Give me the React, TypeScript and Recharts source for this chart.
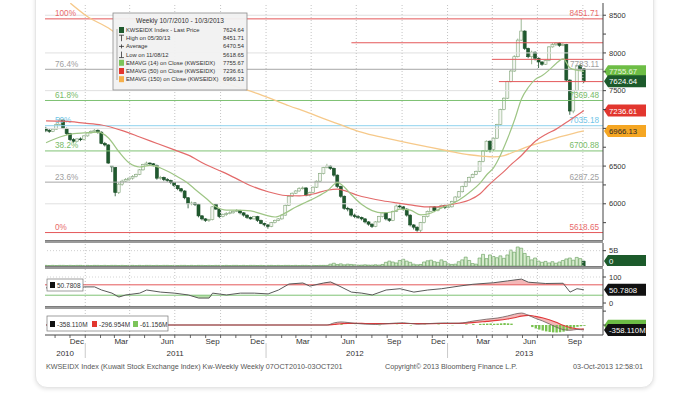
import React from 'react'
import { Area, Bar, Cell, ComposedChart, Line, ReferenceLine, XAxis, YAxis } from 'recharts'

// weekly candles, week 1 = 14-Oct-2010 ... week 156 = 03-Oct-2013
const opens = [
  7000, 6975, 6960, 6990, 7050, 7110, 7000, 6930, 6850, 6830,
  6860, 6850, 6900, 6940, 6960, 6975, 6950, 6800, 6780, 6500,
  6480, 6150, 6260, 6300, 6320, 6340, 6360, 6390, 6450, 6520,
  6540, 6530, 6510, 6340, 6350, 6320, 6310, 6280, 6240, 6200,
  6170, 6080, 6000, 6010, 5990, 5840, 5800, 5780, 5790, 5990,
  5930, 5830, 5860, 5870, 5880, 5900, 5910, 5880, 5850, 5820,
  5800, 5830, 5780, 5740, 5720, 5700, 5750, 5780, 5800, 5850,
  5980, 6100, 6140, 6170, 6200, 6210, 6110, 6150, 6220, 6300,
  6400, 6480, 6500, 6470, 6380, 6230, 6100, 5940, 5930, 5850,
  5830, 5820, 5800, 5760, 5730, 5700, 5760, 5830, 5880, 5800,
  5780, 5900, 5970, 5960, 5930, 5850, 5720, 5690, 5650, 5750,
  5830, 5900, 5960, 5910, 5950, 5980, 5950, 5960, 6030, 6090,
  6160, 6230, 6290, 6350, 6390, 6430, 6560, 6700, 6830, 6720,
  6870, 7050, 7250, 7400, 7620, 7760, 7950, 8170, 8290, 8060,
  7950, 8010, 7930, 7880, 7850, 7900, 8080, 8110, 8130, 8100,
  8110, 7640, 7230, 7500, 7830, 7790,
]
const highs = [
  7020, 6990, 7000, 7070, 7140, 7120, 7010, 6940, 6870, 6870,
  6880, 6910, 6950, 6975, 6990, 6985, 6960, 6820, 6790, 6500,
  6490, 6280, 6320, 6340, 6350, 6380, 6400, 6460, 6530, 6560,
  6550, 6540, 6520, 6370, 6360, 6340, 6320, 6290, 6250, 6210,
  6180, 6090, 6030, 6020, 6000, 5850, 5810, 5800, 5970, 6000,
  5940, 5870, 5890, 5900, 5910, 5930, 5920, 5890, 5860, 5830,
  5840, 5840, 5790, 5750, 5730, 5760, 5790, 5810, 5860, 5990,
  6110, 6150, 6180, 6220, 6230, 6220, 6160, 6230, 6310, 6410,
  6490, 6530, 6510, 6480, 6390, 6240, 6110, 5960, 5940, 5870,
  5850, 5830, 5810, 5770, 5740, 5770, 5840, 5890, 5890, 5810,
  5910, 5990, 5990, 5970, 5940, 5860, 5730, 5700, 5760, 5840,
  5910, 5970, 5970, 5960, 5990, 5990, 5970, 6040, 6100, 6170,
  6240, 6300, 6360, 6400, 6440, 6570, 6710, 6840, 6840, 6880,
  7060, 7260, 7410, 7630, 7780, 7970, 8190, 8451.71, 8300, 8070,
  8030, 8020, 7940, 7890, 7910, 8090, 8130, 8140, 8140, 8130,
  8120, 7650, 7510, 7840, 7850, 7800,
]
const lows = [
  6950, 6940, 6950, 6980, 7040, 6990, 6910, 6830, 6810, 6820,
  6830, 6840, 6890, 6930, 6950, 6930, 6790, 6760, 6530, 6420,
  6100, 6130, 6240, 6290, 6300, 6320, 6350, 6380, 6440, 6510,
  6510, 6490, 6320, 6320, 6300, 6290, 6260, 6220, 6180, 6150,
  6060, 5940, 5980, 5970, 5820, 5780, 5760, 5760, 5780, 5920,
  5810, 5820, 5840, 5860, 5870, 5890, 5860, 5830, 5800, 5790,
  5790, 5760, 5730, 5700, 5670, 5690, 5740, 5770, 5790, 5840,
  5970, 6090, 6130, 6160, 6190, 6100, 6100, 6140, 6210, 6290,
  6390, 6470, 6450, 6360, 6210, 6080, 5920, 5900, 5830, 5810,
  5800, 5780, 5740, 5710, 5680, 5690, 5750, 5820, 5780, 5760,
  5770, 5890, 5940, 5910, 5830, 5700, 5660, 5630, 5618.65, 5740,
  5820, 5890, 5890, 5900, 5940, 5930, 5940, 5950, 6020, 6080,
  6150, 6220, 6280, 6340, 6380, 6420, 6550, 6690, 6680, 6700,
  6860, 7040, 7240, 7390, 7610, 7750, 7940, 8160, 8040, 7930,
  7850, 7900, 7800, 7830, 7840, 7890, 8070, 8090, 8080, 8090,
  7620, 7180, 7200, 7490, 7770, 7600,
]
const closes = [
  6975, 6960, 6990, 7050, 7110, 7000, 6930, 6850, 6830, 6860,
  6850, 6900, 6940, 6960, 6975, 6950, 6800, 6780, 6540, 6490,
  6150, 6260, 6300, 6320, 6340, 6360, 6390, 6450, 6520, 6540,
  6530, 6510, 6340, 6350, 6320, 6310, 6280, 6240, 6200, 6170,
  6080, 6000, 6010, 5990, 5840, 5800, 5780, 5790, 5960, 5930,
  5830, 5860, 5870, 5880, 5900, 5910, 5880, 5850, 5820, 5800,
  5830, 5780, 5740, 5720, 5700, 5750, 5780, 5800, 5850, 5980,
  6100, 6140, 6170, 6200, 6210, 6110, 6150, 6220, 6300, 6400,
  6480, 6500, 6470, 6380, 6230, 6100, 5940, 5930, 5850, 5830,
  5820, 5800, 5760, 5730, 5700, 5760, 5830, 5880, 5800, 5780,
  5900, 5970, 5960, 5930, 5850, 5720, 5690, 5650, 5750, 5830,
  5900, 5960, 5910, 5950, 5980, 5950, 5960, 6030, 6090, 6160,
  6230, 6290, 6350, 6390, 6430, 6560, 6700, 6830, 6720, 6870,
  7050, 7250, 7400, 7620, 7760, 7950, 8170, 8290, 8060, 7950,
  8010, 7930, 7880, 7850, 7900, 8080, 8110, 8130, 8100, 8110,
  7640, 7230, 7500, 7830, 7790, 7624.64,
]
// volume, billions
const volumes = [
  0.2, 0.15, 0.2, 0.15, 0.2, 0.2, 0.15, 0.2, 0.15, 0.2,
  0.2, 0.15, 0.2, 0.15, 0.2, 0.2, 0.15, 0.2, 0.15, 0.2,
  0.2, 0.15, 0.2, 0.15, 0.2, 0.2, 0.15, 0.2, 0.15, 0.2,
  0.2, 0.15, 0.2, 0.15, 0.2, 0.2, 0.15, 0.2, 0.15, 0.2,
  0.2, 0.15, 0.2, 0.15, 0.2, 0.2, 0.15, 0.2, 0.15, 0.2,
  0.2, 0.15, 0.2, 0.15, 0.2, 0.2, 0.15, 0.2, 0.15, 0.2,
  0.2, 0.15, 0.2, 0.15, 0.2, 0.2, 0.15, 0.2, 0.15, 0.2,
  0.2, 0.15, 0.2, 0.15, 0.2, 0.2, 0.15, 0.2, 0.15, 0.2,
  0.2, 0.2, 0.6, 0.9, 0.5, 0.7, 0.4, 0.6, 0.5, 0.4,
  0.3, 0.3, 0.4, 0.3, 0.3, 0.4, 0.3, 0.5, 1.2, 1.6,
  1.3, 1.0, 1.8, 2.2, 1.6, 1.2, 0.6, 0.4, 0.5, 1.3,
  1.7, 1.9, 1.4, 1.2, 2.0, 1.5, 0.7, 0.5, 0.6, 1.4,
  2.0, 2.9, 1.8, 0.8, 0.6, 2.6, 3.8, 2.4, 3.6, 3.1,
  2.7, 3.3, 2.5, 3.6, 5.2, 4.5, 6.2, 5.8, 4.1, 3.1,
  2.0, 2.6, 1.6, 1.2, 1.5, 1.0, 1.4, 0.9, 1.3, 1.8,
  2.3, 2.6, 1.9, 2.8, 2.4, 1.6,
]

const ema14Pts: [number, number][] = [
  [1, 6810], [5, 6886], [9, 6930], [12, 6940], [16, 6950], [19, 6873], [22, 6690], [25, 6540],
  [28, 6488], [31, 6510], [34, 6475], [38, 6382], [42, 6270], [44, 6190], [47, 6077], [50, 5960],
  [53, 5915], [56, 5915], [60, 5905], [64, 5852], [67, 5825], [70, 5880], [73, 5958], [76, 6024],
  [79, 6090], [82, 6170], [85, 6280], [87, 6220], [89, 6120], [92, 5990], [95, 5910], [98, 5880],
  [101, 5895], [103, 5930], [106, 5915], [109, 5852], [112, 5878], [115, 5945], [118, 6000],
  [120, 6050], [123, 6150], [126, 6270], [128, 6385], [130, 6480], [132, 6650], [134, 6865],
  [136, 7110], [138, 7390], [140, 7545], [142, 7650], [144, 7700], [146, 7775], [148, 7860],
  [150, 7920], [152, 7800], [154, 7770], [156, 7755.67],
]
const ema50Pts: [number, number][] = [
  [1, 7100], [6, 7095], [12, 7070], [17, 7045], [23, 6970], [28, 6886], [33, 6800], [38, 6714],
  [42, 6645], [47, 6520], [52, 6420], [56, 6330], [60, 6240], [65, 6160], [70, 6110], [74, 6105],
  [78, 6130], [82, 6180], [85, 6195], [88, 6160], [91, 6110], [94, 6077], [98, 6040], [102, 6011],
  [106, 5985], [110, 5960], [113, 5958], [117, 5984], [120, 6010], [123, 6051], [126, 6130],
  [128, 6223], [131, 6350], [133, 6430], [135, 6520], [138, 6640], [140, 6740], [142, 6830],
  [145, 6920], [148, 6990], [152, 7112], [156, 7236.61],
]
const ema150Pts: [number, number][] = [
  [8, 8660], [13, 8480], [19, 8330], [23, 8200], [28, 8080], [33, 7970], [38, 7867], [43, 7770],
  [47, 7690], [52, 7610], [57, 7536], [62, 7460], [66, 7390], [71, 7300], [76, 7218], [81, 7130],
  [86, 7045], [91, 6960], [96, 6900], [101, 6850], [106, 6800], [111, 6754], [117, 6700],
  [123, 6650], [127, 6630], [130, 6621], [133, 6640], [136, 6690], [140, 6760], [145, 6830],
  [149, 6886], [153, 6935], [156, 6966.13],
]
const rsiPts: [number, number][] = [
  [1, 58], [4, 66], [7, 52], [10, 55], [12, 62], [15, 62], [17, 50], [20, 38], [22, 23], [24, 31],
  [28, 38], [30, 50], [34, 42], [38, 38], [42, 31], [45, 19], [48, 19], [49, 38], [53, 31], [57, 38],
  [61, 38], [65, 35], [68, 50], [71, 73], [75, 77], [77, 65], [81, 77], [83, 81], [86, 62], [89, 42],
  [92, 38], [95, 31], [99, 50], [103, 55], [107, 42], [111, 50], [115, 55], [120, 65], [124, 72],
  [130, 78], [134, 85], [138, 92], [140, 80], [145, 75], [150, 76], [152, 42], [154, 55], [156, 50.78],
]
// MACD, millions
const macdWeeks = [1, 82, 84, 86, 88, 90, 93, 96, 100, 104, 108, 112, 116, 120, 124, 128, 131, 134, 136, 138, 140, 142, 144, 146, 148, 150, 152, 154, 156]
const macdLine = [0, 0, 150, 220, 180, 120, 60, 40, 110, 160, 60, 110, 150, 130, 280, 420, 500, 650, 780, 860, 700, 480, 300, 80, -150, -330, -380, -320, -358.11]
const macdSignal = [0, 0, 40, 90, 120, 120, 110, 100, 100, 110, 100, 100, 110, 120, 170, 260, 330, 430, 520, 640, 690, 620, 520, 380, 200, -20, -180, -270, -296.95]
const macdHist: [number, number][] = [
  [84, 40], [86, 60], [90, 10], [97, -20], [102, 20], [106, -30], [110, 20], [114, 30], [118, -20],
  [122, 40], [124, 60], [126, 80], [127, 90], [128, 100], [129, 110], [130, 90], [131, 100],
  [132, 120], [133, 140], [134, 120], [135, 100], [141, -150], [142, -250], [143, -330], [144, -400],
  [145, -460], [146, -500], [147, -530], [148, -540], [149, -520], [150, -480], [151, -400],
  [152, -300], [153, -200], [154, -130], [155, -90], [156, -61.16],
]

const fibValues = [8451.71, 7783.11, 7369.48, 7035.18, 6700.88, 6287.25, 5618.65]
const fibPercents = ['100%', '76.4%', '61.8%', '50%', '38.2%', '23.6%', '0%']
const fibTexts = ['8451.71', '7783.11', '7369.48', '7035.18', '6700.88', '6287.25', '5618.65']
const markLevels = [8135, 7915, 7620]
const markStarts = [89, 129.5, 131.5]

const quarterStarts = [12.3, 25.1, 38.1, 51.3, 64.4, 77.4, 90.4, 103.6, 116.7, 129.6, 142.6, 155.7]
const monthStarts = [3.6, 7.9, 12.3, 16.7, 20.7, 25.1, 29.4, 33.9, 38.1, 42.6, 47.0, 51.3, 55.7, 60.0, 64.4, 68.9, 73.0, 77.4, 81.7, 86.1, 90.4, 94.9, 99.3, 103.6, 108.0, 112.3, 116.7, 121.1, 125.1, 129.6, 133.9, 138.3, 142.6, 147.0, 151.4, 155.7]
const yearStarts = [12.3, 64.4, 116.7]
const monthLabelAt = [9.9, 22.7, 35.9, 49.0, 61.9, 75.0, 88.1, 101.3, 114.0, 127.0, 140.3, 153.4]
const monthNames = ['Dec', 'Mar', 'Jun', 'Sep', 'Dec', 'Mar', 'Jun', 'Sep', 'Dec', 'Mar', 'Jun', 'Sep']
const yearLabelAt = [6.5, 38.2, 90.0, 138.8]
const yearNames = ['2010', '2011', '2012', '2013']
const priceTicks = [5750, 6000, 6250, 6500, 6750, 7000, 7250, 7500, 7750, 8000, 8250, 8500]
const priceGrid = [6000, 6500, 7000, 7500, 8000, 8500]

const legendRows = [
  ['KWSEIDX Index - Last Price', '7624.64'],
  ['High on 05/30/13', '8451.71'],
  ['Average', '6470.54'],
  ['Low on 11/08/12', '5618.65'],
  ['EMAVG (14) on Close (KWSEIDX)', '7755.67'],
  ['EMAVG (50) on Close (KWSEIDX)', '7236.61'],
  ['EMAVG (150) on Close (KWSEIDX)', '6966.13'],
]

// ---- tables built from the arrays
const candles = closes.map((c, k) => ({
  w: k + 1, open: opens[k], close: c, high: highs[k], low: lows[k], range: [lows[k], highs[k]],
}))
const volTable = volumes.map((v, k) => ({ w: k + 1, vol: v }))
const pts = (a: [number, number][]) => a.map(([w, v]) => ({ w, v }))
const rsiData = pts(rsiPts)
const rsiHigh = rsiPts.map(([w, v]) => ({ w, band: [70, Math.max(v, 70)] }))
const rsiLow = rsiPts.map(([w, v]) => ({ w, band: [Math.min(v, 30), 30] }))
const macdData = macdWeeks.map((w, k) => ({
  w, macd: macdLine[k], signal: macdSignal[k],
  band: [Math.min(macdLine[k], macdSignal[k]), Math.max(macdLine[k], macdSignal[k])],
}))
const histData = macdHist.map(([w, v]) => ({ w, h: v }))
const xTicks = [...monthStarts, ...monthLabelAt, ...yearLabelAt].sort((a, b) => a - b)

// ---- styling
const FONT = "'Liberation Sans', Arial, sans-serif"
const AXIS_W = 50
const MARGIN = { top: 0, right: 700 - 603 - AXIS_W, bottom: 0, left: 45 }
const X_DOMAIN: [number, number] = [0.7, 161.5]
const fibColors = ['#e4585a', '#a6a6a6', '#7fc274', '#8fd2ee', '#7fc274', '#a6a6a6', '#e4585a']
const fibTextColors = ['#e86a6a', '#a0a0a0', '#78bb68', '#72c6e8', '#78bb68', '#a0a0a0', '#e86a6a']

const Candle = (p: any) => {
  const { x, y, width, height, payload } = p
  if (!payload || x == null) return null
  const { open, close, high, low } = payload
  const top = Math.min(y, y + height)
  const h = Math.abs(height)
  const span = high - low || 1
  const py = (v: number) => top + ((high - v) / span) * h
  const cx = x + width / 2
  const up = close >= open
  const y1 = py(Math.max(open, close))
  const y2 = py(Math.min(open, close))
  const edge = up ? '#83a67b' : '#1b4d28'
  return (
    <g>
      <line x1={cx} x2={cx} y1={top} y2={top + h} stroke={edge} strokeWidth={0.8} />
      <rect x={cx - 1.5} y={y1} width={3} height={Math.max(y2 - y1, 0.8)}
        fill={up ? '#f3f6f1' : '#1f5a2e'} stroke={edge} strokeWidth={0.6} />
    </g>
  )
}

const tag = (text: string, bg: string, fg: string) => (props: any) => {
  const vb = props.viewBox || {}
  const x0 = (vb.x ?? 0) + (vb.width ?? 0) + 1
  const cy = vb.y ?? 0
  return (
    <g>
      <path d={`M${x0} ${cy} L${x0 + 4} ${cy - 6} H${x0 + 42} V${cy + 6} H${x0 + 4} Z`} fill={bg} />
      <text x={x0 + 5} y={cy + 3} fontSize={7.8} fill={fg} fontFamily={FONT}>{text}</text>
    </g>
  )
}

const fibLabel = (k: number) => (props: any) => {
  const vb = props.viewBox || {}
  return (
    <g fontSize={8.2} fontFamily={FONT} fill={fibTextColors[k]}>
      <text x={vb.x + 10} y={vb.y - 2.5}>{fibPercents[k]}</text>
      <text x={vb.x + vb.width - 4} y={vb.y - 2.5} textAnchor="end">{fibTexts[k]}</text>
    </g>
  )
}

const AxisTick = (p: any) => {
  const { x, y, payload } = p
  const v = payload.value
  const mi = monthLabelAt.indexOf(v)
  if (mi >= 0) return <text x={x} y={y + 9} textAnchor="middle" fontSize={8} fill="#333" fontFamily={FONT}>{monthNames[mi]}</text>
  const yi = yearLabelAt.indexOf(v)
  if (yi >= 0) return <text x={x} y={y + 20.5} textAnchor="middle" fontSize={8} fill="#333" fontFamily={FONT}>{yearNames[yi]}</text>
  return (
    <g>
      <line x1={x} x2={x} y1={y} y2={y + 3} stroke="#444" strokeWidth={0.8} />
      {yearStarts.includes(v) && <line x1={x} x2={x} y1={y + 8} y2={y + 23} stroke="#bdbdbd" strokeWidth={0.8} />}
    </g>
  )
}

const quarterLines = (keyPrefix: string) =>
  quarterStarts.map((q) => (
    <ReferenceLine key={keyPrefix + q} x={q} stroke="#c4c4c4" strokeDasharray="1 2" />
  ))

const rightAxis = (domain: [number, number], ticks: number[], fmt: (v: number) => string) => (
  <YAxis orientation="right" width={AXIS_W} domain={domain} allowDataOverflow ticks={ticks}
    tickFormatter={fmt} tickSize={3} tickMargin={3} interval={0}
    tick={{ fontSize: 7.5, fill: '#333', fontFamily: FONT }}
    axisLine={{ stroke: '#444' }} tickLine={{ stroke: '#444' }} />
)

const hiddenX = <XAxis type="number" dataKey="w" domain={X_DOMAIN} allowDataOverflow hide />

const MainPanel = () => (
  <ComposedChart width={700} height={237} data={candles} margin={MARGIN}>
    {hiddenX}
    {rightAxis([5520, 8662], priceTicks, (v) => (v % 500 === 0 && v !== 7000 ? String(v) : ''))}
    {priceGrid.map((p) => <ReferenceLine key={'g' + p} y={p} stroke="#e0e0e0" />)}
    {quarterLines('q')}
    {fibValues.map((f, k) => (
      <ReferenceLine key={'f' + k} y={f} stroke={fibColors[k]} strokeWidth={1} label={fibLabel(k)} />
    ))}
    {markLevels.map((m, k) => (
      <ReferenceLine key={'m' + k} segment={[{ x: markStarts[k], y: m }, { x: 161.5, y: m }]} stroke="#e4585a" />
    ))}
    <Line data={pts(ema150Pts)} dataKey="v" type="monotone" stroke="#f6c98a" strokeWidth={1.3} dot={false} isAnimationActive={false} />
    <Line data={pts(ema50Pts)} dataKey="v" type="monotone" stroke="#e36b6b" strokeWidth={1.2} dot={false} isAnimationActive={false} />
    <Line data={pts(ema14Pts)} dataKey="v" type="monotone" stroke="#9ec585" strokeWidth={1.2} dot={false} isAnimationActive={false} />
    <Bar dataKey="range" barSize={3} shape={Candle} isAnimationActive={false} />
    <ReferenceLine y={7755.67} stroke="none" label={tag('7755.67', '#6dbd45', '#e8f5df')} />
    <ReferenceLine y={7624.64} stroke="none" label={tag('7624.64', '#1c5a2b', '#ffffff')} />
    <ReferenceLine y={7236.61} stroke="none" label={tag('7236.61', '#e2362e', '#ffffff')} />
    <ReferenceLine y={6966.13} stroke="none" label={tag('6966.13', '#f5a623', '#2a2a2a')} />
  </ComposedChart>
)

const VolumePanel = () => (
  <ComposedChart width={700} height={23} data={volTable} margin={MARGIN}>
    {hiddenX}
    {rightAxis([0, 7.5], [5], () => '5B')}
    <ReferenceLine y={5} stroke="#cfcfcf" strokeDasharray="1 2" />
    {quarterLines('vq')}
    <Bar dataKey="vol" barSize={3} fill="#d6ebcd" stroke="#5f9a55" strokeWidth={0.6} isAnimationActive={false}>
      {volTable.map((d, k) => (
        <Cell key={k} fill={k === volTable.length - 1 ? '#1f5a2e' : '#d6ebcd'} stroke={k === volTable.length - 1 ? '#1f5a2e' : '#5f9a55'} />
      ))}
    </Bar>
    <ReferenceLine y={1.6} stroke="none" label={tag('0', '#1c5a2b', '#ffffff')} />
  </ComposedChart>
)

const RsiPanel = () => (
  <ComposedChart width={700} height={40} data={rsiData} margin={MARGIN}>
    {hiddenX}
    {rightAxis([-23, 130.8], [0, 100], (v) => String(v))}
    {quarterLines('rq')}
    <ReferenceLine y={100} stroke="#d4d4d4" strokeDasharray="1 2" />
    <Area data={rsiHigh} dataKey="band" type="linear" stroke="none" fill="#f2aaaa" fillOpacity={0.85} isAnimationActive={false} />
    <Area data={rsiLow} dataKey="band" type="linear" stroke="none" fill="#a9d99a" fillOpacity={0.85} isAnimationActive={false} />
    <ReferenceLine y={70} stroke="#e4585a" />
    <ReferenceLine y={30} stroke="#7fc274" />
    <Line dataKey="v" type="linear" stroke="#5a5a5a" strokeWidth={1} dot={false} isAnimationActive={false} />
    <ReferenceLine y={50.78} stroke="none" label={tag('50.7808', '#111111', '#ffffff')} />
  </ComposedChart>
)

const MacdPanel = () => (
  <ComposedChart width={700} height={56} data={histData} margin={MARGIN}>
    <XAxis type="number" dataKey="w" domain={X_DOMAIN} allowDataOverflow ticks={xTicks} interval={0}
      height={30} tickSize={0} tickMargin={0} tickLine={false} tick={AxisTick} axisLine={{ stroke: '#444' }} />
    {rightAxis([-720, 1152], [0, 1000], () => '')}
    {quarterLines('mq')}
    <Area data={macdData} dataKey="band" type="monotone" stroke="none" fill="#f2aaaa" fillOpacity={0.85} isAnimationActive={false} />
    <Bar dataKey="h" barSize={2.4} fill="#79c24f" isAnimationActive={false} />
    <Line data={macdData} dataKey="signal" type="monotone" stroke="#e0383a" strokeWidth={1.1} dot={false} isAnimationActive={false} />
    <Line data={macdData} dataKey="macd" type="monotone" stroke="#6a5a5a" strokeWidth={0.8} dot={false} isAnimationActive={false} />
    <ReferenceLine y={-61.16} stroke="none" label={tag('', '#6dbd45', '#ffffff')} />
    <ReferenceLine y={-358.11} stroke="none" label={tag('-358.110M', '#111111', '#ffffff')} />
  </ComposedChart>
)

const legendIcon = (k: number, y: number) => {
  const x = 119
  if (k === 0) return <rect x={x} y={y - 5} width={5} height={6} fill="#1f5a2e" />
  if (k === 1) return <g stroke="#333" strokeWidth={0.8}><line x1={x} x2={x + 5} y1={y - 5} y2={y - 5} /><line x1={x + 2.5} x2={x + 2.5} y1={y - 5} y2={y + 1} /></g>
  if (k === 2) return <g stroke="#333" strokeWidth={0.8}><line x1={x} x2={x + 5} y1={y - 2} y2={y - 2} /><line x1={x + 2.5} x2={x + 2.5} y1={y - 4} y2={y} /></g>
  if (k === 3) return <g stroke="#333" strokeWidth={0.8}><line x1={x} x2={x + 5} y1={y + 1} y2={y + 1} /><line x1={x + 2.5} x2={x + 2.5} y1={y - 5} y2={y + 1} /></g>
  const c = ['#7cc45a', '#e2362e', '#f6b04a'][k - 4]
  return <rect x={x} y={y - 5} width={5} height={6} fill={c} />
}

const Overlay = () => (
  <svg width={700} height={393} style={{ position: 'absolute', left: 0, top: 0, pointerEvents: 'none' }} fontFamily={FONT}>
    <rect x={113} y={13} width={134} height={77} fill="#f1f1f1" fillOpacity={0.94} stroke="#8c8c8c" strokeWidth={0.8} />
    <text x={180} y={23} textAnchor="middle" fontSize={6.6} fill="#333">Weekly 10/7/2010 - 10/3/2013</text>
    <line x1={117} x2={117} y1={29} y2={80} stroke="#777" strokeWidth={0.6} />
    {legendRows.map((r, k) => {
      const y = 32 + k * 8.2
      return (
        <g key={k}>
          {legendIcon(k, y)}
          <text x={126} y={y} fontSize={5.8} fill="#333">{r[0]}</text>
          <text x={244} y={y} fontSize={5.8} fill="#333" textAnchor="end">{r[1]}</text>
        </g>
      )
    })}
    <rect x={47} y={279} width={36} height={12} fill="#fff" stroke="#777" strokeWidth={0.7} />
    <rect x={50} y={282} width={5} height={6} fill="#111" />
    <text x={57} y={288} fontSize={6.5} fill="#333">50.7808</text>
    <rect x={47} y={316} width={121} height={15} fill="#fff" stroke="#777" strokeWidth={0.7} />
    <rect x={50} y={321} width={5} height={6} fill="#111" />
    <text x={57} y={327} fontSize={6.5} fill="#333">-358.110M</text>
    <rect x={92} y={321} width={5} height={6} fill="#e2362e" />
    <text x={99} y={327} fontSize={6.5} fill="#333">-296.954M</text>
    <rect x={133} y={321} width={5} height={6} fill="#7cc45a" />
    <text x={140} y={327} fontSize={6.5} fill="#333">-61.156M</text>
    <text x={46} y={369} fontSize={7.2} fill="#555">KWSEIDX Index (Kuwait Stock Exchange Index) Kw-Weekly  Weekly 07OCT2010-03OCT201</text>
    <text x={385} y={369} fontSize={7.2} fill="#555">Copyright© 2013 Bloomberg Finance L.P.</text>
    <text x={643} y={369} fontSize={7.2} fill="#555" textAnchor="end">03-Oct-2013 12:58:01</text>
  </svg>
)

const Separator = ({ top }: { top: number }) => (
  <div style={{ position: 'absolute', left: 45, top, width: 558, height: 3, background: '#9a9a9a', borderTop: '1px solid #7d7d7d', boxSizing: 'border-box' }} />
)

const at = (top: number, child: React.ReactNode) => (
  <div style={{ position: 'absolute', left: 0, top }}>{child}</div>
)

export default function App() {
  return (
    <div style={{ position: 'absolute', left: 0, top: 0, width: 700, height: 393, overflow: 'hidden', background: '#fff', fontFamily: FONT }}>
      <div style={{ position: 'absolute', left: 35, top: -12, width: 617, height: 398, borderRadius: 12, background: '#fff', border: '1px solid #e6e6e6', boxShadow: '0 1px 4px rgba(0,0,0,0.12)' }} />
      {at(3, <MainPanel />)}
      {at(243, <VolumePanel />)}
      {at(269, <RsiPanel />)}
      {at(309, <MacdPanel />)}
      <Separator top={240} />
      <Separator top={266} />
      <Separator top={306} />
      <Overlay />
    </div>
  )
}
